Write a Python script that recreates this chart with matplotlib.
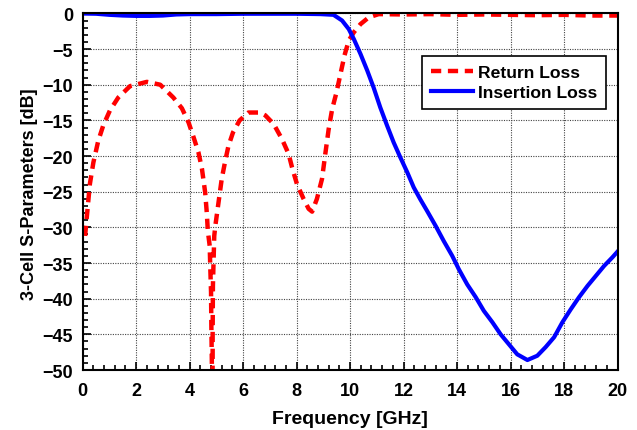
import matplotlib
matplotlib.use("Agg")
import matplotlib.pyplot as plt
from matplotlib.ticker import MultipleLocator

plt.rcParams['font.family'] = ['Liberation Sans', 'DejaVu Sans']
plt.rcParams['font.weight'] = 'bold'

# Return loss (S11), dB
rl_freq = [0.09, 0.17, 0.27, 0.4, 0.58, 0.77, 1.02, 1.33, 1.77, 2.4, 2.9, 3.39, 3.71, 3.96,
           4.15, 4.33, 4.46, 4.58, 4.64, 4.68, 4.75, 4.77, 4.8, 4.81, 4.83, 4.845, 4.86, 4.86,
           4.87, 4.92, 4.96, 5.08, 5.2, 5.33, 5.45, 5.62, 5.87, 6.2, 6.64, 6.83, 7.14, 7.45,
           7.7, 7.83, 8.01, 8.26, 8.45, 8.58, 8.76, 8.95, 9.08, 9.2, 9.33, 9.49, 9.64, 9.79,
           9.95, 10.14, 10.39, 10.7, 11.07, 12, 13, 14, 15, 16, 17, 18, 19, 20]
rl_db = [-31.2, -27.9, -23.9, -20.9, -17.9, -15.7, -13.6, -11.8, -10.2, -9.6, -10.0, -11.8,
         -13.3, -15.3, -17.4, -19.5, -21.8, -25.1, -27.9, -30.5, -32.6, -35.4, -39.1, -43.3,
         -48.9, -54.0, -48.9, -45.0, -38.2, -31.2, -29.8, -26.5, -23.2, -20.7, -18.6, -16.7,
         -15.0, -13.9, -13.9, -14.3, -15.5, -17.6, -19.7, -21.6, -23.9, -26.0, -27.4, -27.8,
         -26.0, -23.2, -19.5, -16.2, -13.4, -11.1, -8.5, -5.9, -3.8, -2.65, -1.5, -0.55,
         -0.1, -0.15, -0.1, -0.2, -0.15, -0.2, -0.25, -0.2, -0.3, -0.3]

# Insertion loss (S21), dB
il_freq = [0, 0.5, 1, 1.5, 2, 2.5, 3, 3.5, 4, 5, 6, 7, 8, 8.89, 9.38, 9.7, 9.95, 10.14,
           10.39, 10.64, 10.88, 11.13, 11.38, 11.63, 11.88, 12.14, 12.38, 12.63, 12.88, 13.2,
           13.5, 13.82, 14.07, 14.38, 14.7, 15.0, 15.32, 15.63, 15.94, 16.25, 16.63, 17.0,
           17.31, 17.63, 17.94, 18.25, 18.56, 18.88, 19.19, 19.5, 19.81, 20.0]
il_db = [-0.02, -0.05, -0.2, -0.3, -0.35, -0.35, -0.3, -0.15, -0.1, -0.1, -0.05, -0.05,
         -0.05, -0.1, -0.2, -1.0, -2.2, -3.6, -5.7, -8.0, -10.4, -13.2, -15.7, -18.1, -20.2,
         -22.3, -24.4, -26.1, -27.7, -29.8, -31.9, -34.0, -35.9, -38.0, -39.8, -41.7, -43.3,
         -45.0, -46.4, -47.8, -48.6, -48.0, -46.8, -45.4, -43.3, -41.5, -39.8, -38.2, -36.8,
         -35.4, -34.2, -33.4]

fig = plt.figure(figsize=(6.37, 4.31), dpi=100)
ax = fig.add_axes([0.1298, 0.1392, 0.8396, 0.8274])

ax.plot(rl_freq, rl_db, color='#ff0000', lw=3.2, linestyle=(0, (2.3, 1.5)),
        label='Return Loss')
ax.plot(il_freq, il_db, color='#0000ff', lw=3.0, label='Insertion Loss',
        solid_joinstyle='round')

ax.set_xlim(0, 20)
ax.set_ylim(-50, 0)
ax.xaxis.set_major_locator(MultipleLocator(2))
ax.xaxis.set_minor_locator(MultipleLocator(0.4))
ax.yaxis.set_major_locator(MultipleLocator(5))
ax.yaxis.set_minor_locator(MultipleLocator(1))
ax.tick_params(which='both', direction='in', labelsize=13, width=1.2)
ax.tick_params(which='major', length=6)
ax.tick_params(which='minor', length=3.5)
ax.tick_params(axis='x', pad=8.5)
ax.tick_params(axis='y', pad=7)
for lbl in ax.get_xticklabels() + ax.get_yticklabels():
    lbl.set_fontweight('bold')
ax.grid(True, which='major', color='#444444', linestyle=(0, (1, 1.2)), lw=0.8)
for s in ax.spines.values():
    s.set_linewidth(1.5)

ax.set_xlabel('Frequency [GHz]', fontsize=14, fontweight='bold', va='center')
ax.xaxis.set_label_coords(0.5, -0.137)
ax.set_ylabel('3-Cell S-Parameters [dB]', fontsize=13, fontweight='bold', va='center')
ax.yaxis.set_label_coords(-0.1, 0.496)

leg = ax.legend(loc='upper left', bbox_to_anchor=(0.635, 0.8805), fontsize=12.6,
                frameon=True, fancybox=False, edgecolor='black', framealpha=1,
                handlelength=2.4, borderpad=0.5, labelspacing=0.28, handletextpad=0.3,
                borderaxespad=0)
leg.get_frame().set_linewidth(1.2)
for t in leg.get_texts():
    t.set_fontweight('bold')

fig.savefig('out.png', dpi=100)
